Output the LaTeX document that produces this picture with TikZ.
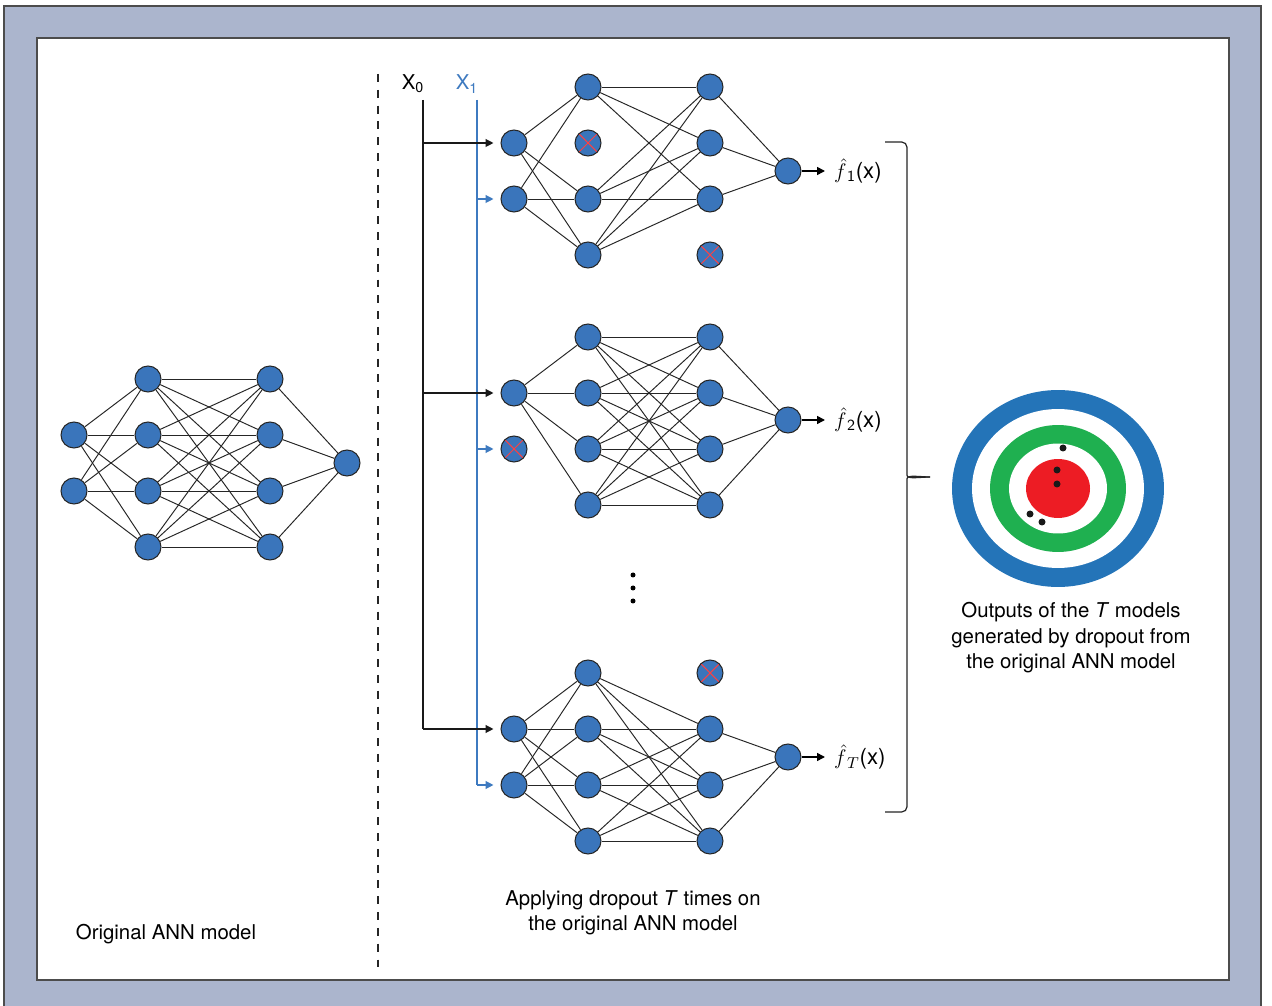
\documentclass[tikz,border=0pt]{standalone}
\usepackage{fontspec}
\setmainfont{TeX Gyre Heros}
\usetikzlibrary{arrows.meta,positioning,calc}
\definecolor{framebg}{RGB}{171,181,205}
\definecolor{nnblue}{RGB}{58,117,187}
\definecolor{xblue}{RGB}{62,122,192}
\definecolor{ringblue}{RGB}{36,116,184}
\definecolor{ringgreen}{RGB}{31,176,80}
\definecolor{ringred}{RGB}{237,28,36}

\begin{document}
\begin{tikzpicture}[x=0.02cm,y=-0.02cm,>={Triangle[length=4.5pt,width=4.5pt]},
  every node/.style={font=\fontsize{11.6}{14.5}\selectfont},
  neuron/.style={circle,draw=black!85,line width=0.6pt,fill=nnblue,minimum size=0.52cm,inner sep=0pt},
  dropped/.style={neuron,path picture={\draw[red!75,line width=0.6pt]
      (path picture bounding box.north west) -- (path picture bounding box.south east)
      (path picture bounding box.south west) -- (path picture bounding box.north east);}},
  link/.style={black!85,line width=0.55pt},
  feed/.style={->,line width=0.7pt,shorten >=4pt},
  outlabel/.style={anchor=west,inner ysep=2pt,inner xsep=5pt,font=\fontsize{12.6}{15}\selectfont}]
\useasboundingbox (0,0) rectangle (1272,1006);
% frame
\fill[framebg] (4,6) rectangle (1261,1006);
\draw[black!70,line width=0.9pt] (4,1006) -- (4,6) -- (1261,6) -- (1261,1006);
\draw[black!70,line width=0.9pt,fill=white] (37,38) rectangle (1229,980);
\draw[black!85,line width=0.6pt,dash pattern=on 4.5pt off 4.5pt] (378,74) -- (378,972);

% original ANN model
\foreach \i/\y in {1/435,2/491} \node[neuron] (Li\i) at (74,\y) {};
\foreach \j/\y in {1/379,2/435,3/491,4/547} { \node[neuron] (Lh\j) at (148,\y) {}; \node[neuron] (Lg\j) at (270,\y) {}; }
\node[neuron] (Lo) at (347,463) {};
\foreach \i in {1,2} \foreach \j in {1,...,4} \draw[link] (Li\i) -- (Lh\j);
\foreach \i in {1,...,4} \foreach \j in {1,...,4} \draw[link] (Lh\i) -- (Lg\j);
\foreach \i in {1,...,4} \draw[link] (Lg\i) -- (Lo);
\node (orig) at (166,934) {Original ANN model};

% model 1
\foreach \i/\y in {1/143,2/199} \node[neuron] (Ai\i) at (514,\y) {};
\foreach \j/\y/\s in {1/87/neuron,2/143/dropped,3/199/neuron,4/255/neuron} \node[\s] (Ah\j) at (588,\y) {};
\foreach \j/\y/\s in {1/87/neuron,2/143/neuron,3/199/neuron,4/255/dropped} \node[\s] (Ag\j) at (710,\y) {};
\node[neuron] (Ao) at (788,171) {};
\foreach \i in {1,2} \foreach \j in {1,3,4} \draw[link] (Ai\i) -- (Ah\j);
\foreach \i in {1,3,4} \foreach \j in {1,2,3} \draw[link] (Ah\i) -- (Ag\j);
\foreach \i in {1,2,3} \draw[link] (Ag\i) -- (Ao);

% model 2
\node[neuron] (Bi1) at (514,393) {};
\node[dropped] (Bi2) at (514,449) {};
\foreach \j/\y in {1/337,2/393,3/449,4/505} { \node[neuron] (Bh\j) at (588,\y) {}; \node[neuron] (Bg\j) at (710,\y) {}; }
\node[neuron] (Bo) at (788,420) {};
\foreach \j in {1,...,4} \draw[link] (Bi1) -- (Bh\j);
\foreach \i in {1,...,4} \foreach \j in {1,...,4} \draw[link] (Bh\i) -- (Bg\j);
\foreach \i in {1,...,4} \draw[link] (Bg\i) -- (Bo);

% model T
\foreach \i/\y in {1/729,2/785} \node[neuron] (Ci\i) at (514,\y) {};
\foreach \j/\y in {1/673,2/729,3/785,4/841} \node[neuron] (Ch\j) at (588,\y) {};
\foreach \j/\y/\s in {1/673/dropped,2/729/neuron,3/785/neuron,4/841/neuron} \node[\s] (Cg\j) at (710,\y) {};
\node[neuron] (Co) at (788,757) {};
\foreach \i in {1,2} \foreach \j in {1,...,4} \draw[link] (Ci\i) -- (Ch\j);
\foreach \i in {1,...,4} \foreach \j in {2,3,4} \draw[link] (Ch\i) -- (Cg\j);
\foreach \i in {2,3,4} \draw[link] (Cg\i) -- (Co);
\foreach \y in {575,588,601} \fill (633,\y) circle (0.05cm);
\node[align=center] (applycap) at (633,913) {Applying dropout \textit{T} times on\\the original ANN model};

% inputs
\node (x0) at (413,84) {X\textsubscript{0}};
\node[text=xblue] (x1) at (467,84) {X\textsubscript{1}};
\coordinate (x0top) at (423,100); \coordinate (x0bot) at (423,729);
\coordinate (x1top) at (477,100); \coordinate (x1bot) at (477,785);
\draw[black!90,line width=0.7pt] (x0top) -- (x0bot);
\draw[xblue,line width=0.7pt] (x1top) -- (x1bot);
\foreach \n in {Ai1,Bi1,Ci1} \draw[feed,black!90] (x0top |- \n) -- (\n);
\foreach \n in {Ai2,Bi2,Ci2} \draw[feed,xblue] (x1top |- \n) -- (\n);

% outputs
\node[outlabel] (f1) at (825,171) {$\hat{f}_{\,\mathsf{1}}$(x)};
\node[outlabel] (f2) at (825,420) {$\hat{f}_{\,\mathsf{2}}$(x)};
\node[outlabel] (fT) at (825,757) {$\hat{f}_{\,T}$(x)};
\draw[->,line width=0.9pt] (Ao) -- (f1.west);
\draw[->,line width=0.9pt] (Bo) -- (f2.west);
\draw[->,line width=0.9pt] (Co) -- (fT.west);
\draw[black!85,line width=0.7pt,rounded corners=3pt] (885,142) -- (907,142) -- (907,470) to[out=-90,in=180] (930,477);
\draw[black!85,line width=0.7pt,rounded corners=3pt] (885,812) -- (907,812) -- (907,484) to[out=90,in=180] (930,477);

% target
\fill[ringblue] (1058,488.5) ellipse [x radius=2.12cm,y radius=1.97cm];
\fill[white] (1058,488.5) ellipse [x radius=1.72cm,y radius=1.59cm];
\fill[ringgreen] (1058,488.5) ellipse [x radius=1.36cm,y radius=1.27cm];
\fill[white] (1058,488.5) ellipse [x radius=0.98cm,y radius=0.90cm];
\fill[ringred] (1058,488.5) ellipse [x radius=0.64cm,y radius=0.59cm];
\foreach \p in {(1063,448),(1057,470),(1057,484),(1030,514),(1042,522)} \fill[black!90] \p circle (0.07cm);
\node[align=center] (targetcap) at (1071,638) {Outputs of the \textit{T} models\\generated by dropout from\\the original ANN model};
\end{tikzpicture}
\end{document}
